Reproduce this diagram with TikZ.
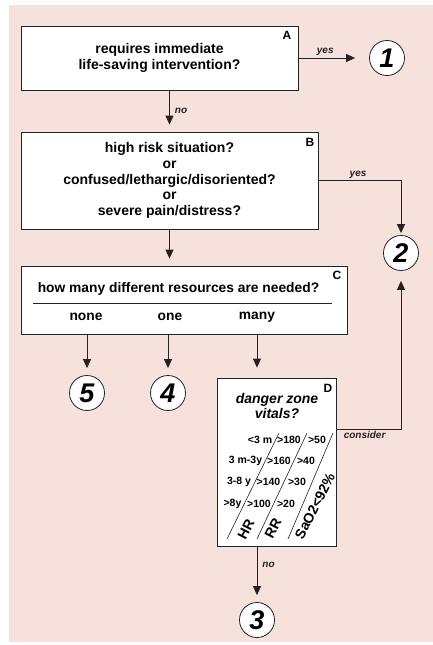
\documentclass[tikz,border=0pt]{standalone}
\usepackage{fontspec}
\setmainfont{Liberation Sans}
\usetikzlibrary{arrows.meta}

\definecolor{bgpink}{RGB}{246,225,220}
\definecolor{ink}{RGB}{35,35,35}

\tikzset{
  box/.style={draw=ink, line width=0.8pt, fill=white, rectangle, inner sep=0pt, align=center,
    font=\fontsize{14}{15.8}\selectfont\bfseries},
  ask/.style={inner sep=0pt, font=\fontsize{13.8}{15.8}\selectfont\bfseries},
  goal/.style={draw=ink, line width=0.8pt, fill=white, circle, minimum size=35pt, inner sep=0pt,
    font=\fontsize{27}{27}\selectfont\bfseries\itshape},
  tag/.style={inner sep=0pt, font=\fontsize{12}{12}\selectfont\bfseries},
  lbl/.style={inner sep=2pt, text=ink, font=\fontsize{10}{10}\selectfont\bfseries\itshape},
  cell/.style={inner sep=0pt, font=\fontsize{10.5}{11}\selectfont\bfseries},
  vital/.style={inner sep=0pt, rotate=63, font=\fontsize{14}{14}\selectfont\bfseries},
  arr/.style={draw=ink, line width=0.8pt, -{Triangle[length=9pt,width=8pt]}, shorten >=7pt},
}

\begin{document}
\begin{tikzpicture}[x=1pt,y=-1pt]
\useasboundingbox (0,0) rectangle (433,645);
\fill[bgpink] (9,5) rectangle (433,642);

% question boxes
\node[box, minimum width=277pt, minimum height=64pt] (A) at (159.5,58) {requires immediate\\life-saving intervention?};
\node[box, minimum width=297pt, minimum height=97pt] (B) at (169.5,180.5) {high risk situation?\\or\\confused/lethargic/disoriented?\\or\\severe pain/distress?};
\node[box, minimum width=326pt, minimum height=68pt] (C) at (184,300) {};
\node[box, minimum width=119pt, minimum height=168pt] (D) at (276.5,462) {};

\node[tag] (tagA) at (287,35) {A};
\node[tag] (tagB) at (310,142) {B};
\node[tag] (tagC) at (337,275) {C};
\node[tag] (tagD) at (328,388) {D};

% box C
\node[ask] (Cq) at (178.5,289) {how many different resources are needed?};
\draw[ink, line width=0.6pt] (33,303) -- (332,303);
\node[ask] (none) at (86,317) {none};
\node[ask] (one) at (170,317) {one};
\node[ask] (many) at (257,317) {many};

% box D
\node[ask, align=center, font=\fontsize{14}{15.5}\selectfont\bfseries\itshape] (Dq) at (277,406) {danger zone\\vitals?};
\draw[ink, line width=0.6pt] (279,433) -- (227,539);
\draw[ink, line width=0.6pt] (307,433) -- (257,539);
\draw[ink, line width=0.6pt] (333,433) -- (288,539);
\node[cell] (age1) at (260,440) {<3 m};
\node[cell] (hr1) at (289,440) {>180};
\node[cell] (rr1) at (317,440) {>50};
\node[cell] (age2) at (245.5,461) {3 m-3y};
\node[cell] (hr2) at (279,461) {>160};
\node[cell] (rr2) at (306,461) {>40};
\node[cell] (age3) at (239,482) {3-8 y};
\node[cell] (hr3) at (268.5,482) {>140};
\node[cell] (rr3) at (297,482) {>30};
\node[cell] (age4) at (232.5,504) {>8y};
\node[cell] (hr4) at (259,504) {>100};
\node[cell] (rr4) at (286,504) {>20};
\node[vital] (HR) at (246,529) {HR};
\node[vital] (RR) at (273,528) {RR};
\node[vital] (SaO) at (315,506) {SaO2<92\%};

% outcomes
\node[goal] (1) at (387,58) {1};
\node[goal] (2) at (401,253) {2};
\node[goal] (3) at (257,620) {3};
\node[goal] (4) at (168,393) {4};
\node[goal] (5) at (87,393) {5};
\coordinate (Dout) at (336,429);

\path[arr, shorten >=14pt] (A) -- node[lbl, above, pos=0.38] (yesA) {yes} (1);
\path[arr] (B |- A.south) -- node[lbl, right=3pt] (noA) {no} (B);
\path[arr, shorten >=2pt] (B) -| node[lbl, above, pos=0.24] (yesB) {yes} (2);
\path[arr] (B) -- (B |- C.north);
\path[arr] (5 |- C.south) -- (5);
\path[arr] (4 |- C.south) -- (4);
\path[arr, shorten >=10pt] (many |- C.south) -- (many |- D.north);
\path[arr, shorten >=10pt] (Dout) -| node[lbl, below, pos=0.22] (consider) {consider} (2);
\path[arr] (3 |- D.south) -- node[lbl, right=3pt, pos=0.33] (noD) {no} (3);
\end{tikzpicture}
\end{document}
